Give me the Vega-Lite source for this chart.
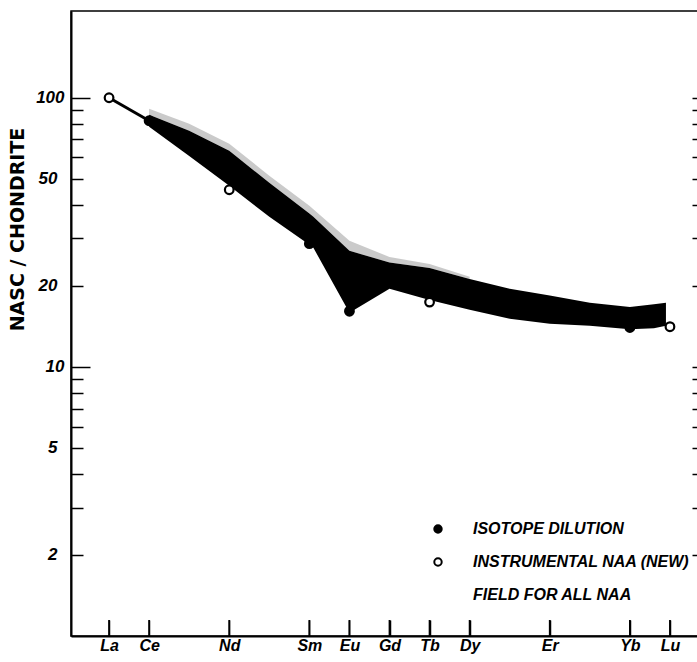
{
  "$schema": "https://vega.github.io/schema/vega-lite/v6.json",
  "autosize": {"type": "none"},
  "padding": {"left": 71, "top": 11, "right": 0, "bottom": 26},
  "width": 627,
  "height": 625,
  "background": "white",
  "config": {
    "view": {"stroke": "black", "strokeWidth": 1.5},
    "axis": {"grid": false, "domainColor": "black", "domainWidth": 2, "tickColor": "black", "tickWidth": 1.5, "labelColor": "black", "titleColor": "black"}
  },
  "datasets": {
    "band": [
      {"Z": 58, "upper": 86.5, "lower": 78.0, "fringe": 91},
      {"Z": 59, "upper": 75.4, "lower": 60.8, "fringe": 80},
      {"Z": 60, "upper": 63.5, "lower": 47.1, "fringe": 67.5},
      {"Z": 61, "upper": 48.3, "lower": 36.1, "fringe": 51.3},
      {"Z": 62, "upper": 37.1, "lower": 28.4, "fringe": 39.7},
      {"Z": 62.1, "upper": 36.1, "lower": 27.7, "fringe": 38.5},
      {"Z": 63, "upper": 27.0, "lower": 15.9, "fringe": 29.4},
      {"Z": 64, "upper": 24.4, "lower": 19.5, "fringe": 25.6},
      {"Z": 65, "upper": 23.3, "lower": 17.7, "fringe": 24.1},
      {"Z": 66, "upper": 21.2, "lower": 16.3, "fringe": 21.6},
      {"Z": 67, "upper": 19.5, "lower": 15.1},
      {"Z": 68, "upper": 18.4, "lower": 14.45},
      {"Z": 69, "upper": 17.3, "lower": 14.2},
      {"Z": 70, "upper": 16.7, "lower": 13.8},
      {"Z": 70.6, "upper": 17.1, "lower": 13.9},
      {"Z": 70.9, "upper": 17.3, "lower": 14.2}
    ],
    "line": [
      {"Z": 57, "value": 100},
      {"Z": 58, "value": 82.1}
    ],
    "xticks": [
      {"label": "La", "Z": 57}, {"label": "Ce", "Z": 58}, {"label": "Nd", "Z": 60},
      {"label": "Sm", "Z": 62}, {"label": "Eu", "Z": 63}, {"label": "Gd", "Z": 64},
      {"label": "Tb", "Z": 65}, {"label": "Dy", "Z": 66}, {"label": "Er", "Z": 68},
      {"label": "Yb", "Z": 70}, {"label": "Lu", "Z": 71}
    ],
    "points": [
      {"element": "La", "Z": 57, "value": 100, "method": "INSTRUMENTAL NAA (NEW)"},
      {"element": "Nd", "Z": 60, "value": 45.5, "method": "INSTRUMENTAL NAA (NEW)"},
      {"element": "Tb", "Z": 65, "value": 17.4, "method": "INSTRUMENTAL NAA (NEW)"},
      {"element": "Lu", "Z": 71, "value": 14.1, "method": "INSTRUMENTAL NAA (NEW)"},
      {"element": "Ce", "Z": 58, "value": 82.1, "method": "ISOTOPE DILUTION"},
      {"element": "Sm", "Z": 62, "value": 28.7, "method": "ISOTOPE DILUTION"},
      {"element": "Eu", "Z": 63, "value": 16.1, "method": "ISOTOPE DILUTION"},
      {"element": "Yb", "Z": 70, "value": 14.0, "method": "ISOTOPE DILUTION"}
    ]
  },
  "resolve": {"axis": {"y": "independent"}},
  "layer": [
    {
      "data": {"name": "band"},
      "transform": [{"filter": "isValid(datum.fringe)"}],
      "mark": {"type": "area", "color": "#8a8a8a", "opacity": 0.45},
      "encoding": {
        "x": {"field": "Z", "type": "quantitative", "scale": {"domain": [56.05, 71.7], "nice": false, "zero": false, "padding": 0},
          "axis": {"values": [57, 58, 60, 62, 63, 64, 65, 66, 68, 70, 71],
            "labelExpr": "['La','Ce','Pr','Nd','Pm','Sm','Eu','Gd','Tb','Dy','Ho','Er','Tm','Yb','Lu'][datum.value - 57]",
            "title": null, "ticks": true, "tickSize": -16, "zindex": 2,
            "labelPadding": 17, "labelFont": "Liberation Sans", "labelFontSize": 16, "labelFontWeight": "bold", "labelFontStyle": "italic", "labelBaseline": "top"}},
        "y": {"field": "fringe", "type": "quantitative", "scale": {"type": "log", "domain": [1, 210], "nice": false},
          "axis": {"orient": "left", "values": [2, 3, 4, 5, 6, 7, 8, 9, 10, 20, 30, 40, 50, 60, 70, 80, 90, 100],
            "labelExpr": "indexof([2, 5, 10, 20, 50, 100], datum.value) >= 0 ? format(datum.value, 'd') : ''",
            "tickSize": {"condition": {"test": "datum.value == 100 || datum.value == 10", "value": -19}, "value": -12},
            "labelPadding": 26, "labelFont": "Liberation Sans", "labelFontSize": 17, "labelFontWeight": "bold", "labelFontStyle": "italic",
            "title": "NASC / CHONDRITE", "titleFont": "DejaVu Sans", "titleFontSize": 19, "titleFontWeight": "bold",
            "titleX": -54, "titleY": 218, "titleAngle": -90, "titleBaseline": "middle", "titleAlign": "center"}},
        "y2": {"field": "upper"}
      }
    },
    {
      "data": {"name": "band"},
      "mark": {"type": "area", "color": "black", "opacity": 1},
      "encoding": {
        "x": {"field": "Z", "type": "quantitative"},
        "y": {"field": "upper", "type": "quantitative", "axis": null},
        "y2": {"field": "lower"}
      }
    },
    {
      "data": {"name": "line"},
      "mark": {"type": "line", "color": "black", "strokeWidth": 3},
      "encoding": {
        "x": {"field": "Z", "type": "quantitative"},
        "y": {"field": "value", "type": "quantitative",
          "axis": {"orient": "right", "values": [2, 3, 4, 5, 6, 7, 8, 9, 10, 20, 30, 40, 50, 60, 70, 80, 90, 100], "labels": false, "domain": false, "tickSize": -6, "title": null}}
      }
    },
    {
      "data": {"name": "points"},
      "mark": {"type": "point", "shape": "circle", "size": 75, "strokeWidth": 2.2, "opacity": 1},
      "encoding": {
        "x": {"field": "Z", "type": "quantitative"},
        "y": {"field": "value", "type": "quantitative", "axis": null},
        "fill": {"field": "method", "type": "nominal",
          "scale": {"domain": ["ISOTOPE DILUTION", "INSTRUMENTAL NAA (NEW)", "FIELD FOR ALL NAA"], "range": ["black", "white", "transparent"]},
          "legend": {"orient": "none", "legendX": 359, "legendY": 510, "title": null, "symbolType": "circle", "symbolSize": 55, "symbolStrokeWidth": 2,
            "labelFont": "Liberation Sans", "labelFontSize": 16, "labelFontWeight": "bold", "labelFontStyle": "italic", "labelColor": "black",
            "labelOffset": 27, "rowPadding": 17, "labelLimit": 400}},
        "stroke": {"field": "method", "type": "nominal",
          "scale": {"domain": ["ISOTOPE DILUTION", "INSTRUMENTAL NAA (NEW)", "FIELD FOR ALL NAA"], "range": ["black", "black", "transparent"]},
          "legend": {"orient": "none", "legendX": 359, "legendY": 510, "title": null, "symbolType": "circle", "symbolSize": 55, "symbolStrokeWidth": 2,
            "labelFont": "Liberation Sans", "labelFontSize": 16, "labelFontWeight": "bold", "labelFontStyle": "italic", "labelColor": "black",
            "labelOffset": 27, "rowPadding": 17, "labelLimit": 400}}
      }
    },
    {
      "data": {"name": "xticks"},
      "mark": {"type": "rule", "color": "black", "strokeWidth": 1.8, "opacity": 1, "clip": false},
      "encoding": {
        "x": {"field": "Z", "type": "quantitative"},
        "y": {"datum": 1.147, "type": "quantitative", "axis": null},
        "y2": {"datum": 1}
      }
    }
  ]
}
